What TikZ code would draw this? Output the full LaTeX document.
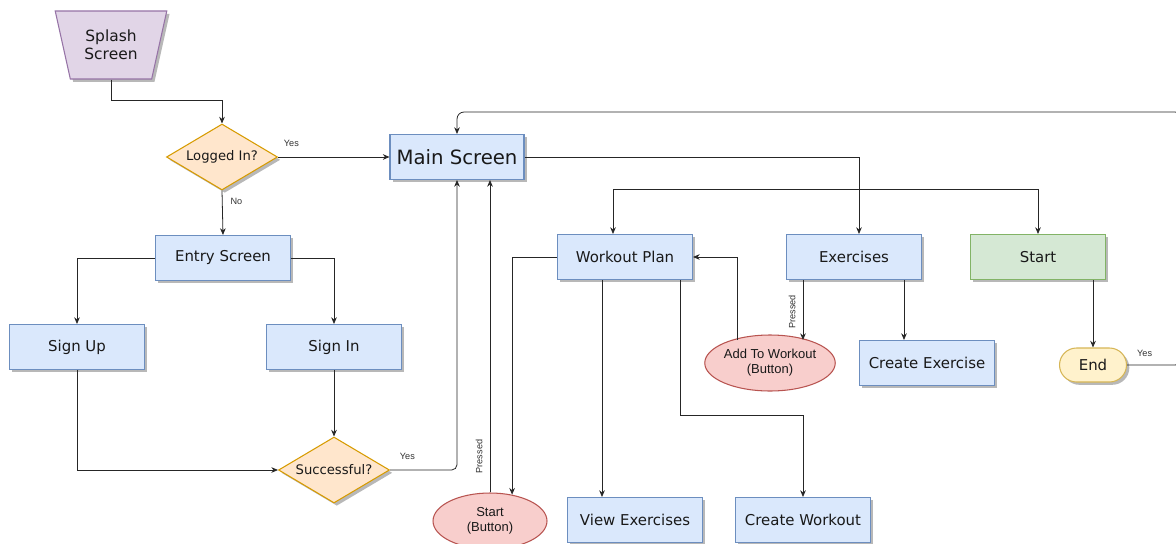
\documentclass[tikz,border=0pt]{standalone}
\usepackage{fontspec}
\setmainfont{DejaVu Sans}
\newfontfamily\smallfont{Liberation Sans}
\usetikzlibrary{shapes.geometric,shapes.misc,arrows.meta,shadows,calc}

\definecolor{blueF}{HTML}{DAE8FC}\definecolor{blueD}{HTML}{6C8EBF}
\definecolor{purpleF}{HTML}{E1D5E7}\definecolor{purpleD}{HTML}{9673A6}
\definecolor{orangeF}{HTML}{FFE6CC}\definecolor{orangeD}{HTML}{D79B00}
\definecolor{greenF}{HTML}{D5E8D4}\definecolor{greenD}{HTML}{82B366}
\definecolor{redF}{HTML}{F8CECC}\definecolor{redD}{HTML}{B85450}
\definecolor{yellowF}{HTML}{FFF2CC}\definecolor{yellowD}{HTML}{D6B656}

\tikzset{
  shade/.style={drop shadow={shadow xshift=1.6pt, shadow yshift=-1.6pt, opacity=0.28, fill=black}},
  box/.style={rectangle, draw=blueD, fill=blueF, line width=0.6pt, minimum width=2.7cm,
    minimum height=0.9cm, inner sep=0pt, text=black!90,
    font=\fontsize{8.5}{10}\selectfont, shade},
  decision/.style={diamond, draw=orangeD, fill=orangeF, line width=0.6pt, shape aspect=1.68,
    minimum width=2.22cm, minimum height=1.32cm, inner sep=0pt, text=black!90,
    font=\fontsize{7.5}{9}\selectfont, shade},
  button/.style={ellipse, draw=redD, fill=redF, line width=0.6pt, minimum width=2.28cm,
    minimum height=1.12cm, inner sep=0pt, align=center, text=black!90,
    font=\smallfont\fontsize{7.4}{8.6}\selectfont},
  terminal/.style={rounded rectangle, draw=yellowD, fill=yellowF, line width=0.6pt,
    minimum width=1.34cm, minimum height=0.68cm, inner sep=0pt, text=black!90,
    font=\fontsize{8.5}{10}\selectfont, shade},
  wire/.style={draw=black!85, line width=0.45pt},
  arr/.style={wire, -{Stealth[length=3.8pt,width=3.2pt]}},
  lbl/.style={font=\smallfont\fontsize{5.2}{6}\selectfont, text=black!80, inner sep=1.5pt},
}

\begin{document}
\begin{tikzpicture}[x=0.02cm, y=-0.02cm]
\fill[white] (0,0) rectangle (1176,544);
\useasboundingbox (0,0) rectangle (1176,544);

% screens and decisions
\node[trapezium, trapezium stretches=true, shape border rotate=180, trapezium angle=71.7,
      minimum width=2.24cm, minimum height=1.36cm, inner sep=0pt, draw=purpleD, fill=purpleF,
      line width=0.6pt, align=center, text=black!90, font=\fontsize{8.8}{10.2}\selectfont, shade]
      (splash) at (111,45) {Splash\\Screen};
\node[decision] (logged) at (222,157) {Logged In?};
\node[box, minimum width=2.68cm, font=\fontsize{11.2}{13}\selectfont] (main) at (457,157) {Main Screen};
\node[box] (entry) at (223,258) {Entry Screen};
\node[box] (signup) at (77,347) {Sign Up};
\node[box] (signin) at (334,347) {Sign In};
\node[decision] (succ) at (334,470) {Successful?};
\node[box] (wp) at (625,257) {Workout Plan};
\node[box] (ex) at (854,257) {Exercises};
\node[box, draw=greenD, fill=greenF] (start) at (1038,257) {Start};
\node[button] (addw) at (770,363) {Add To Workout\\(Button)};
\node[box] (ce) at (927,363) {Create Exercise};
\node[terminal] (endn) at (1093,365) {End};
\node[button] (startbtn) at (490,521) {Start\\(Button)};
\node[box] (ve) at (635,520) {View Exercises};
\node[box] (cw) at (803,520) {Create Workout};

% attachment points off the node centres
\coordinate (wpA) at ($(wp.south)+(-23,0)$);
\coordinate (wpB) at ($(wp.south)+(55,0)$);
\coordinate (wpC) at ($(wp.north)+(-12,0)$);
\coordinate (exA) at ($(ex.south)+(-51,0)$);
\coordinate (exB) at ($(ex.south)+(50,0)$);
\coordinate (exM) at ($(ex.north)+(5,0)$);
\coordinate (addIn) at ($(addw.center)+(33,-23)$);
\coordinate (addOut) at ($(addw.center)+(-33,-23)$);
\coordinate (loopR) at (1182,112);

% login flow
\draw[arr] (splash.south) -- ++(0,21) -| (logged.north);
\draw[arr] (logged.east) -- node[lbl, pos=0.12, above=4pt] {Yes} (main.west);
\draw[arr] (logged.south) -- node[lbl, pos=0.25, right=3pt] {No} (entry.north);
\draw[arr] (entry.west) -| (signup.north);
\draw[arr] (entry.east) -| (signin.north);
\draw[arr] (signin.south) -- (succ.north);
\draw[arr] (signup.south) |- (succ.west);
\draw[arr, rounded corners=3pt] (succ.east) -| node[lbl, pos=0.13, above=4pt] {Yes} (main.south);

% main screen branches
\draw[arr] (main.east) -| (exM);
\draw[wire, {Stealth[length=3.8pt,width=3.2pt]}-{Stealth[length=3.8pt,width=3.2pt]}]
  (wpC) -- ++(0,-45) -| (start.north);
\draw[arr] (startbtn.north) -- node[lbl, pos=0.115, rotate=90, anchor=south, inner sep=4pt] {Pressed}
  (startbtn.north |- main.south);

% workout plan
\draw[arr] (wp.west) -| (startbtn.50);
\draw[arr] (wpA) -- (wpA |- ve.north);
\draw[arr] (wpB) -- ++(0,135) -| (cw.north);

% exercises
\draw[arr] (exA) -- node[lbl, pos=0.53, rotate=90, anchor=south, inner sep=4pt] {Pressed} (addIn);
\draw[arr] (addOut) |- (wp.east);
\draw[arr] (exB) -- (exB |- ce.north);

% workout session
\draw[arr] (endn.north |- start.south) -- (endn.north);
\draw[arr, rounded corners=4pt] (endn.east) -| node[lbl, pos=0.16, above=3pt] {Yes} (loopR) -| (main.north);
\end{tikzpicture}
\end{document}
